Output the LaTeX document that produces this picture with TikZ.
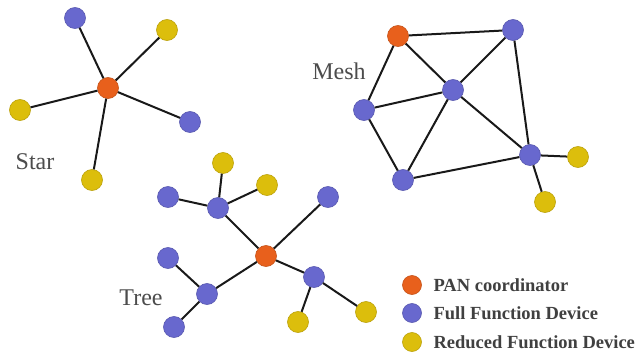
\documentclass[tikz,border=0pt]{standalone}
\usepackage{fontspec}
\setmainfont{Liberation Serif}
\usepackage{xcolor}
\usetikzlibrary{positioning}
\definecolor{panOrange}{RGB}{232,96,28}
\definecolor{ffdBlue}{RGB}{104,104,206}
\definecolor{rfdYellow}{RGB}{220,190,12}
\tikzset{
    devNode/.style={circle, inner sep=0pt, minimum size=21pt},
    panNode/.style={devNode, fill=panOrange, draw=panOrange!85!black, line width=0.6pt},
    ffdNode/.style={devNode, fill=ffdBlue, draw=ffdBlue!85!black, line width=0.6pt},
    rfdNode/.style={devNode, fill=rfdYellow, draw=rfdYellow!85!black, line width=0.6pt},
    linkLine/.style={line width=2pt, black!90},
    netLabel/.style={font=\fontsize{24}{26}\selectfont, text=black!70},
    legText/.style={font=\fontsize{18.5}{20}\selectfont\bfseries, text=black!75, anchor=west}
}

\begin{document}
\begin{tikzpicture}[x=1pt,y=-1pt]
    \useasboundingbox (0,0) rectangle (638,356);
    % --- Star ---
    \node[panNode] (sC) at (108,88){};
    \node[ffdNode] (sA) at (75,18){};
    \node[rfdNode] (sB) at (167,30){};
    \node[rfdNode] (sD) at (20,110){};
    \node[ffdNode] (sE) at (190,122){};
    \node[rfdNode] (sF) at (92,180){};
    \draw[linkLine] (sC)--(sA); \draw[linkLine] (sC)--(sB);
    \draw[linkLine] (sC)--(sD); \draw[linkLine] (sC)--(sE);
    \draw[linkLine] (sC)--(sF);
    \node[netLabel] (starLbl) at (35,162){Star};
    % --- Mesh ---
    \node[panNode] (mP) at (398,36){};
    \node[ffdNode] (mTR) at (513,30){};
    \node[ffdNode] (mC) at (453,90){};
    \node[ffdNode] (mL) at (364,110){};
    \node[ffdNode] (mB) at (403,180){};
    \node[ffdNode] (mR) at (530,155){};
    \node[rfdNode] (mY1) at (578,157){};
    \node[rfdNode] (mY2) at (545,202){};
    \draw[linkLine] (mP)--(mTR); \draw[linkLine] (mP)--(mC); \draw[linkLine] (mP)--(mL);
    \draw[linkLine] (mL)--(mC); \draw[linkLine] (mL)--(mB); \draw[linkLine] (mB)--(mC);
    \draw[linkLine] (mC)--(mTR); \draw[linkLine] (mC)--(mR); \draw[linkLine] (mTR)--(mR);
    \draw[linkLine] (mB)--(mR); \draw[linkLine] (mR)--(mY1); \draw[linkLine] (mR)--(mY2);
    \node[netLabel] (meshLbl) at (339,71){Mesh};
    % --- Tree ---
    \node[panNode] (tC) at (266,256){};
    \node[ffdNode] (tUL) at (218,208){};
    \node[ffdNode] (tUL1) at (168,197){};
    \node[rfdNode] (tUL2) at (223,163){};
    \node[rfdNode] (tUL3) at (267,185){};
    \node[ffdNode] (tUR) at (328,197){};
    \node[ffdNode] (tLL) at (207,294){};
    \node[ffdNode] (tLL1) at (168,258){};
    \node[ffdNode] (tLL2) at (174,327){};
    \node[ffdNode] (tLR) at (314,277){};
    \node[rfdNode] (tLR1) at (298,322){};
    \node[rfdNode] (tLR2) at (366,312){};
    \draw[linkLine] (tC)--(tUL); \draw[linkLine] (tC)--(tUR);
    \draw[linkLine] (tC)--(tLL); \draw[linkLine] (tC)--(tLR);
    \draw[linkLine] (tUL)--(tUL1); \draw[linkLine] (tUL)--(tUL2); \draw[linkLine] (tUL)--(tUL3);
    \draw[linkLine] (tLL)--(tLL1); \draw[linkLine] (tLL)--(tLL2);
    \draw[linkLine] (tLR)--(tLR1); \draw[linkLine] (tLR)--(tLR2);
    \node[netLabel] (treeLbl) at (141,298){Tree};
    % --- Legend ---
    \node[panNode, minimum size=19pt] (legPan) at (412,285){};
    \node[ffdNode, minimum size=19pt] (legFfd) at (412,313){};
    \node[rfdNode, minimum size=19pt] (legRfd) at (412,342){};
    \node[legText] at (430,285){PAN coordinator};
    \node[legText] at (430,313){Full Function Device};
    \node[legText] at (430,342){Reduced Function Device};
\end{tikzpicture}
\end{document}
